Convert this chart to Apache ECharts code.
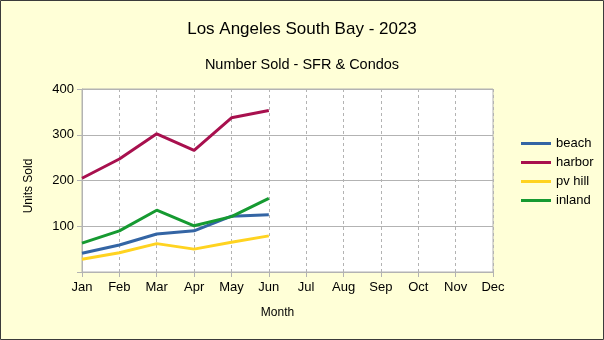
<!DOCTYPE html>
<html><head><meta charset="utf-8">
<script src="https://cdn.jsdelivr.net/npm/echarts@6/dist/echarts.min.js"></script>
<style>html,body{margin:0;padding:0;background:#ffffd7}#c{width:604px;height:340px}</style>
</head><body><div id="c"></div>
<script>
const months = ['Jan','Feb','Mar','Apr','May','Jun','Jul','Aug','Sep','Oct','Nov','Dec'];
const beach = [41, 59, 83, 90, 122, 125];
const harbor = [205, 247, 302, 266, 337, 353];
const pvHill = [28, 42, 62, 50, 65, 79];
const inland = [63, 90, 135, 101, 121, 161];
const seriesNames = ['beach','harbor','pv hill','inland'];
const colors = ['#3465a4','#a8104e','#ffd320','#169a31'];
const yTicks = [0,100,200,300,400];

const chart = echarts.init(document.getElementById('c'));
const font = 'Liberation Sans';
const mk = (name, data, color) => ({
  name, type:'line', data, symbol:'none', smooth:false,
  lineStyle:{width:3, color}, itemStyle:{color}
});
chart.setOption({
  backgroundColor:'#ffffd7',
  animation:false,
  title:[
    {text:'Los Angeles South Bay - 2023', left:'center', top:16, textStyle:{fontFamily:font, fontSize:17, fontWeight:'normal', color:'#000'}},
    {text:'Number Sold - SFR & Condos', left:'center', top:52, textStyle:{fontFamily:font, fontSize:14.5, fontWeight:'normal', color:'#000'}}
  ],
  graphic:[{type:'rect', shape:{x:0.5,y:0.5,width:603,height:339}, style:{fill:'none', stroke:'#3b3b3b', lineWidth:1}, z:100}],
  legend:{
    orient:'vertical', left:516, top:132, itemWidth:30, itemHeight:3, itemGap:6,
    icon:'rect',
    textStyle:{fontFamily:font, fontSize:13, color:'#000'},
    data:seriesNames
  },
  grid:{left:82, right:111, top:89, bottom:68, show:true, backgroundColor:'#fff', borderColor:'#b3b3b3', borderWidth:1},
  xAxis:{
    type:'category', data:months, boundaryGap:false,
    name:'Month', nameLocation:'middle', nameGap:35,
    nameTextStyle:{fontFamily:font, fontSize:12, color:'#000', padding:[0,20,0,0]},
    axisLine:{lineStyle:{color:'#b3b3b3'}},
    axisTick:{show:true, length:5, lineStyle:{color:'#b3b3b3'}},
    axisLabel:{fontFamily:font, fontSize:13, color:'#000', margin:9, interval:0},
    splitLine:{show:true, lineStyle:{color:'#b3b3b3', type:[3,3]}}
  },
  yAxis:{
    type:'value', min:yTicks[0], max:yTicks[yTicks.length-1], interval:100,
    name:'Units Sold', nameLocation:'middle', nameGap:47,
    nameTextStyle:{fontFamily:font, fontSize:12, color:'#000', padding:[0,11,0,0]},
    axisLine:{show:true, lineStyle:{color:'#b3b3b3'}},
    axisTick:{show:true, length:5, lineStyle:{color:'#b3b3b3'}},
    axisLabel:{fontFamily:font, fontSize:13, color:'#000', margin:8, formatter:v=> v===0?'':String(v)},
    splitLine:{show:true, lineStyle:{color:'#b3b3b3'}}
  },
  series:[
    mk(seriesNames[0], beach, colors[0]),
    mk(seriesNames[1], harbor, colors[1]),
    mk(seriesNames[2], pvHill, colors[2]),
    mk(seriesNames[3], inland, colors[3])
  ]
});
</script></body></html>
